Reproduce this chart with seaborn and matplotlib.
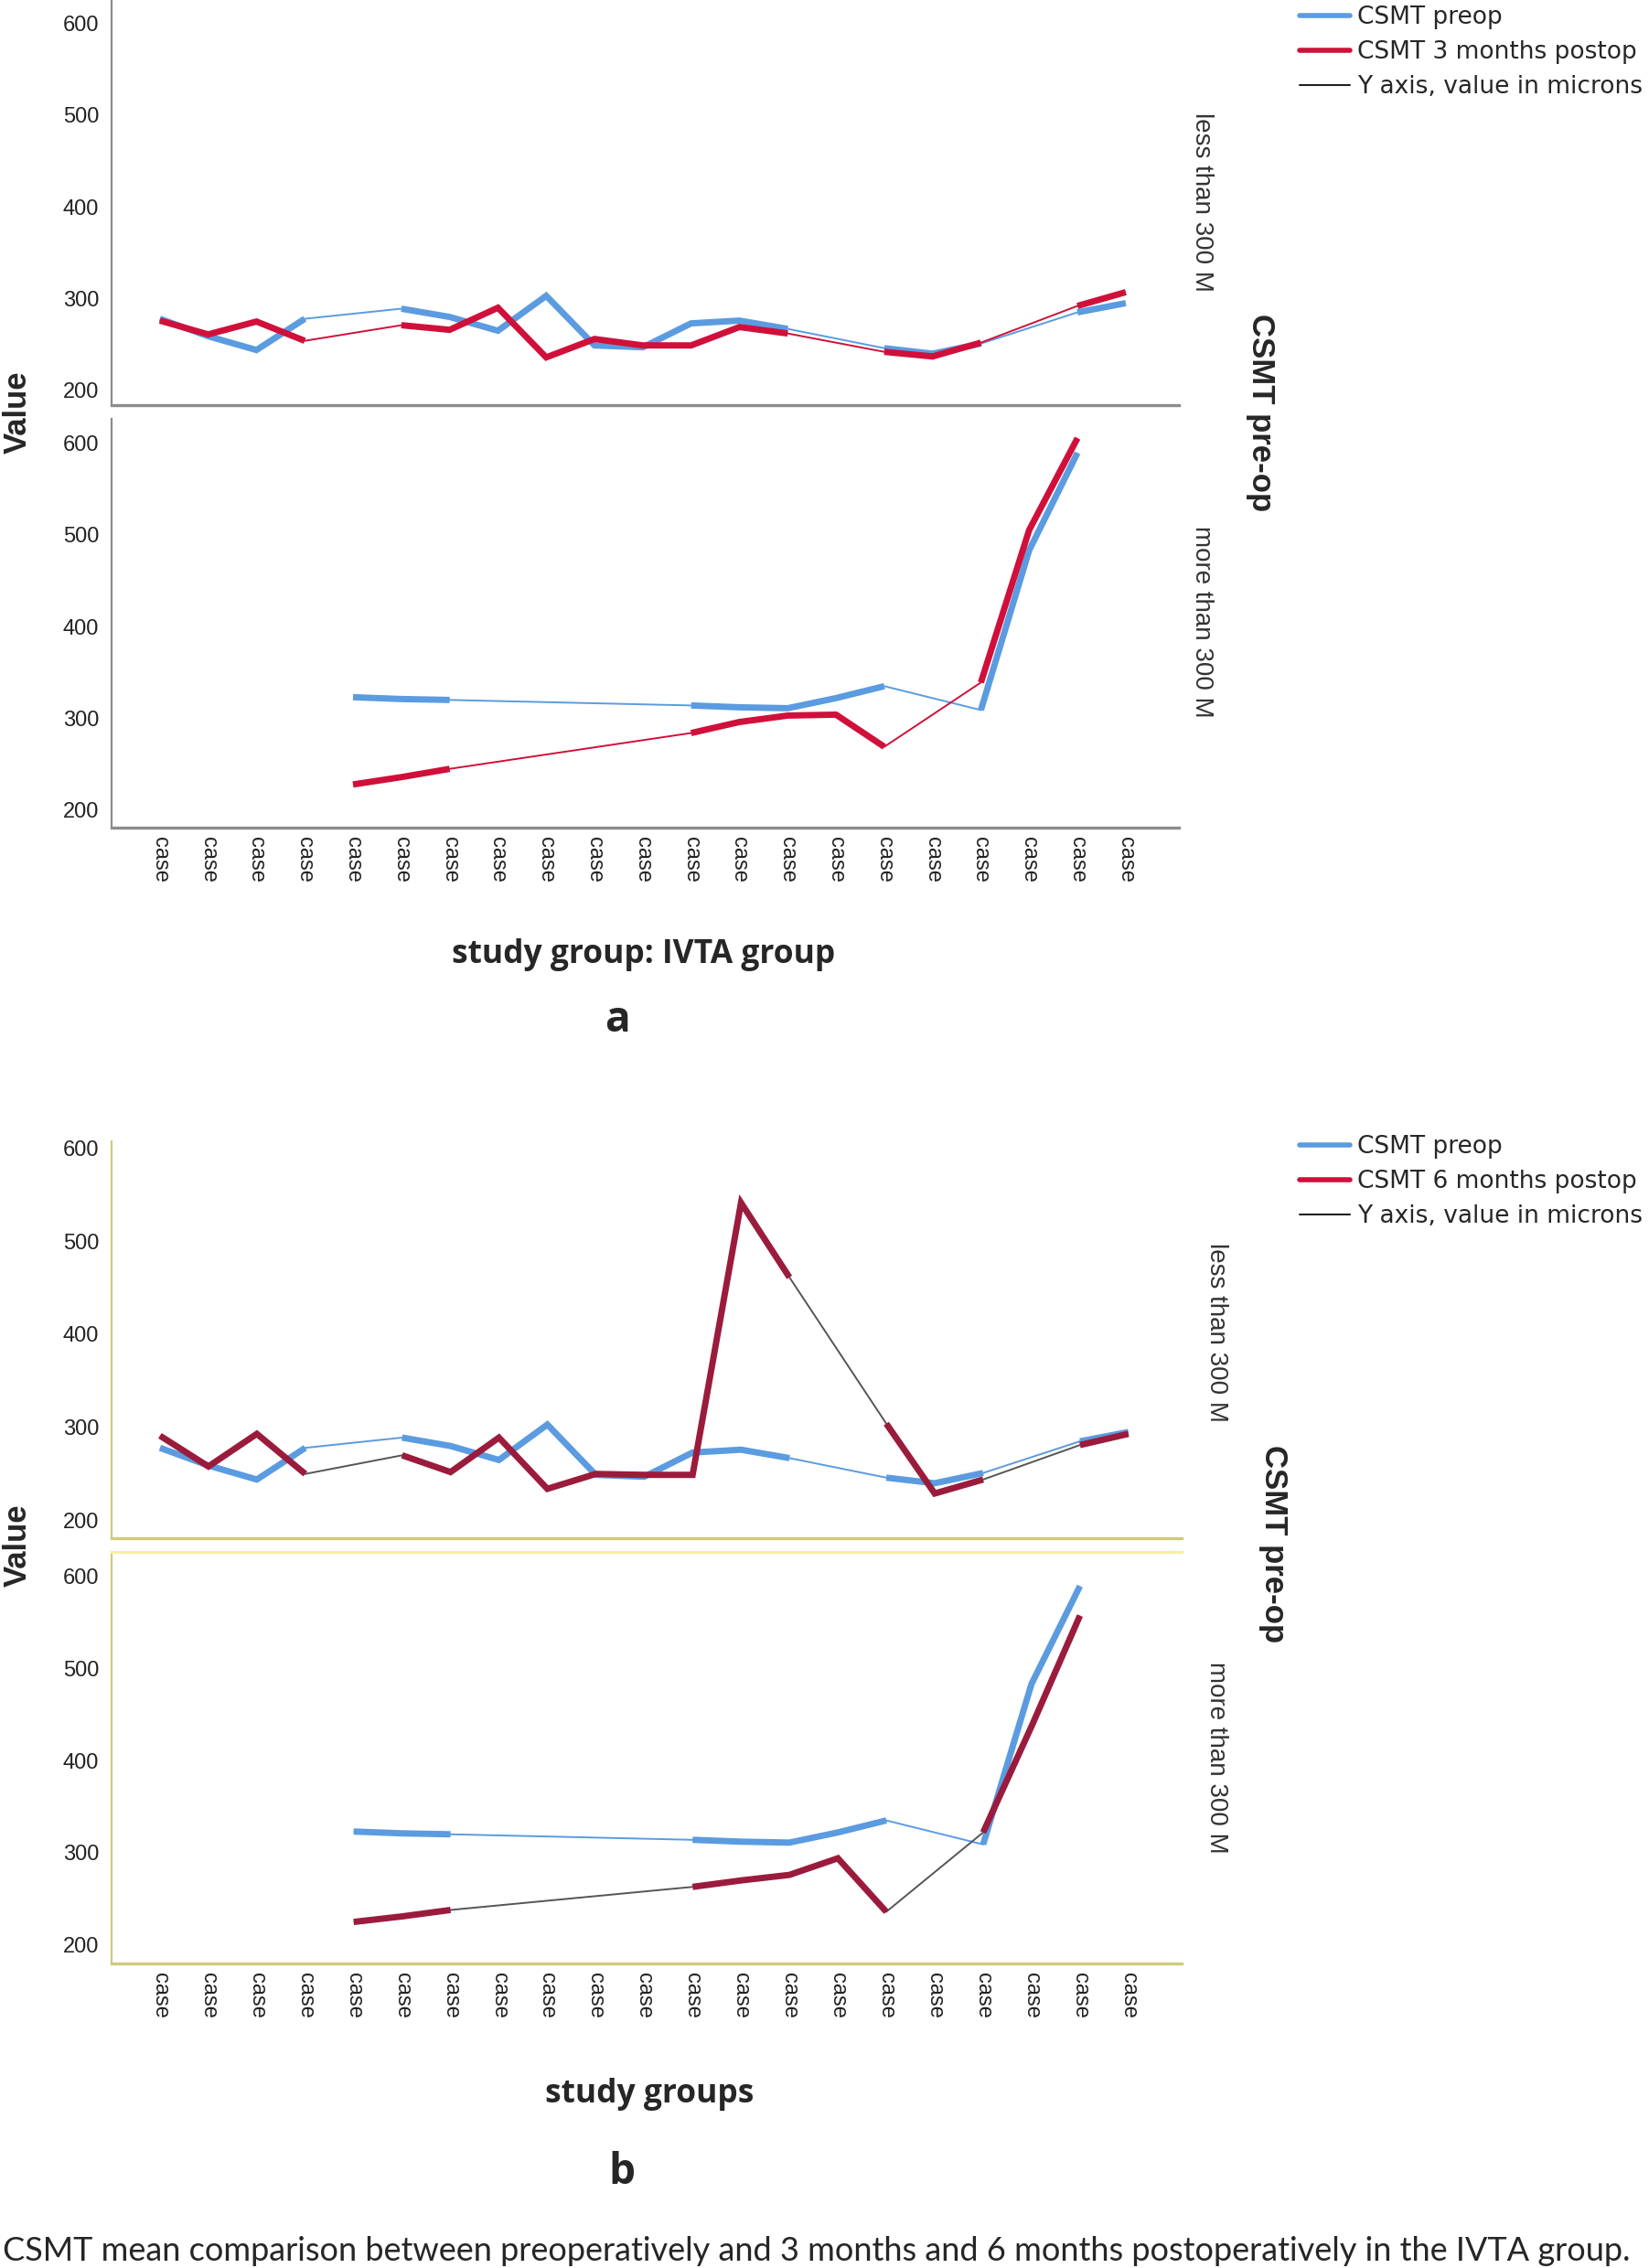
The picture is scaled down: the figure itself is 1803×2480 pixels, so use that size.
import numpy as np
import pandas as pd
import matplotlib
matplotlib.use("Agg")
import matplotlib.pyplot as plt
from matplotlib.lines import Line2D
import seaborn as sns

nan = np.nan

# x axis: 21 cases, every tick label reads "case"
case_labels = ["case"] * 21
case_pos = list(range(21))

# CSMT (microns), NaN where the case is not in that panel
preop_less = [278, 259, 244, 278, nan, 289, 280, 265, 303, 249, 247, 273, 276, 267, nan, 246, 240, 251, nan, 285, 295]
preop_more = [nan, nan, nan, nan, 323, 321, 320, nan, nan, nan, nan, 314, 312, 311, 322, 335, nan, 309, 483, 589, nan]

post3_less = [276, 261, 275, 254, nan, 271, 266, 290, 236, 256, 249, 249, 269, 262, nan, 242, 237, 252, nan, 292, 307]
post3_more = [nan, nan, nan, nan, 228, 236, 245, nan, nan, nan, nan, 284, 296, 303, 304, 269, nan, 339, 505, 605, nan]

post6_less = [291, 258, 293, 250, nan, 270, 252, 289, 234, 250, 249, 249, 541, 461, nan, 304, 229, 244, nan, 281, 293]
post6_more = [nan, nan, nan, nan, 225, 231, 238, nan, nan, nan, nan, 263, 270, 276, 294, 236, nan, 322, 437, 557, nan]

y_ticks = [200, 300, 400, 500, 600]

BLUE = "#5B9BE0"
RED = "#D0103A"
MAROON = "#9B1B3C"

W, H = 1803, 2480
sns.set_theme(style="white")
plt.rcParams["font.family"] = ["Liberation Sans", "DejaVu Sans"]

fig = plt.figure(figsize=(W / 100, H / 100), dpi=100)


def frac_box(left, top, right, bottom):
    # pixel box -> figure fraction [l, b, w, h]
    return [left / W, 1 - bottom / H, (right - left) / W, (bottom - top) / H]


def long_frame(series):
    rows = []
    for name, vals in series.items():
        run = 0
        prev = False
        for i, v in enumerate(vals):
            if np.isnan(v):
                prev = False
                continue
            if not prev:
                run += 1
            rows.append({"case": i, "value": v, "series": name, "run": f"{name}-{run}"})
            prev = True
    return pd.DataFrame(rows)


def draw_panel(ax, series, thick_pal, thin_pal, ylim, spine_col, show_x, top_col=None):
    df = long_frame(series)
    # thin line joins the cases across the gaps
    sns.lineplot(data=df, x="case", y="value", hue="series", palette=thin_pal,
                 estimator=None, linewidth=1.4, legend=False, ax=ax)
    # thick line only between neighbouring cases
    sns.lineplot(data=df, x="case", y="value", hue="series", units="run", palette=thick_pal,
                 estimator=None, linewidth=5.0, legend=False, ax=ax)
    for ln in ax.get_lines():
        ln.set_solid_joinstyle("miter")
        ln.set_solid_capstyle("butt")
    ax.set_xlim(-1.0, 21.1)
    ax.set_ylim(*ylim)
    ax.set_yticks(y_ticks)
    ax.set_yticklabels([str(t) for t in y_ticks], fontsize=17, color="#222222")
    ax.set_xticks(case_pos)
    if show_x:
        ax.set_xticklabels(case_labels, rotation=270, fontsize=17, color="#222222",
                           ha="center", va="top")
    else:
        ax.set_xticklabels([])
    ax.tick_params(axis="both", length=0)
    ax.tick_params(axis="y", pad=10)
    ax.tick_params(axis="x", pad=7)
    ax.set_xlabel("")
    ax.set_ylabel("")
    ax.grid(False)
    for s in ["top", "right"]:
        ax.spines[s].set_visible(False)
    ax.spines["left"].set_color(spine_col)
    ax.spines["left"].set_linewidth(1.6)
    ax.spines["bottom"].set_color(spine_col)
    ax.spines["bottom"].set_linewidth(2.4)
    if top_col is not None:
        ax.spines["top"].set_visible(True)
        ax.spines["top"].set_color(top_col)
        ax.spines["top"].set_linewidth(2.2)


# ---- chart a ----
pal_a = {"pre": BLUE, "post": RED}
ax_a1 = fig.add_axes(frac_box(122, 0, 1289, 443))
draw_panel(ax_a1, {"pre": preop_less, "post": post3_less}, pal_a, pal_a,
           (184, 625), "#8C8C8C", False)
ax_a2 = fig.add_axes(frac_box(122, 458, 1289, 905))
draw_panel(ax_a2, {"pre": preop_more, "post": post3_more}, pal_a, pal_a,
           (181, 626), "#8C8C8C", True)

# ---- chart b ----
pal_b = {"pre": BLUE, "post": MAROON}
thin_b = {"pre": BLUE, "post": "#555555"}
ax_b1 = fig.add_axes(frac_box(122, 1248, 1292, 1682))
draw_panel(ax_b1, {"pre": preop_less, "post": post6_less}, pal_b, thin_b,
           (181, 607), "#CFCB7C", False)
ax_b2 = fig.add_axes(frac_box(122, 1697, 1292, 2147))
draw_panel(ax_b2, {"pre": preop_more, "post": post6_more}, pal_b, thin_b,
           (180, 626), "#CFCB7C", True, top_col="#F4F0A0")


def ftext(x, y, s, **kw):
    fig.text(x / W, 1 - y / H, s, **kw)


for yc in (451, 1690):
    ftext(19, yc, "Value", rotation=90, ha="center", va="center", fontsize=25, fontweight="bold")

ftext(1379, 451, "CSMT pre-op", rotation=270, ha="center", va="center", fontsize=25, fontweight="bold")
ftext(1392, 1688, "CSMT pre-op", rotation=270, ha="center", va="center", fontsize=25, fontweight="bold")

ftext(1314, 221, "less than 300 M", rotation=270, ha="center", va="center", fontsize=20, color="#333333")
ftext(1314, 680, "more than 300 M", rotation=270, ha="center", va="center", fontsize=20, color="#333333")
ftext(1330, 1457, "less than 300 M", rotation=270, ha="center", va="center", fontsize=20, color="#333333")
ftext(1330, 1922, "more than 300 M", rotation=270, ha="center", va="center", fontsize=20, color="#333333")

title_font = ["Open Sans", "DejaVu Sans"]
ftext(704, 1044, "study group: IVTA group", ha="center", va="center", fontsize=25.5,
      fontweight="bold", family=title_font)
ftext(710, 2290, "study groups", ha="center", va="center", fontsize=25.5,
      fontweight="bold", family=title_font)
ftext(675, 1115, "a", ha="center", va="center", fontsize=33, fontweight="bold", family=title_font)
ftext(680, 2376, "b", ha="center", va="center", fontsize=33, fontweight="bold", family=title_font)

ftext(3, 2461, "CSMT mean comparison between preoperatively and 3 months and 6 months "
      "postoperatively in the IVTA group.", ha="left", va="center", fontsize=26,
      family=["Lato", "DejaVu Sans"])


def add_legend(top, post_label):
    handles = [Line2D([], [], color=BLUE, lw=4),
               Line2D([], [], color=RED, lw=4),
               Line2D([], [], color="#222222", lw=1.5)]
    labels = ["CSMT preop", post_label, "Y axis, value in microns"]
    fig.legend(handles, labels, loc="upper left", bbox_to_anchor=(1421 / W, 1 - top / H),
               frameon=False, borderpad=0, borderaxespad=0, handlelength=2.1,
               handletextpad=0.3, labelspacing=0.46,
               prop={"family": "DejaVu Sans", "size": 19})


add_legend(6, "CSMT 3 months postop")
add_legend(1241, "CSMT 6 months postop")

fig.savefig("out.png", dpi=100, facecolor="white")
